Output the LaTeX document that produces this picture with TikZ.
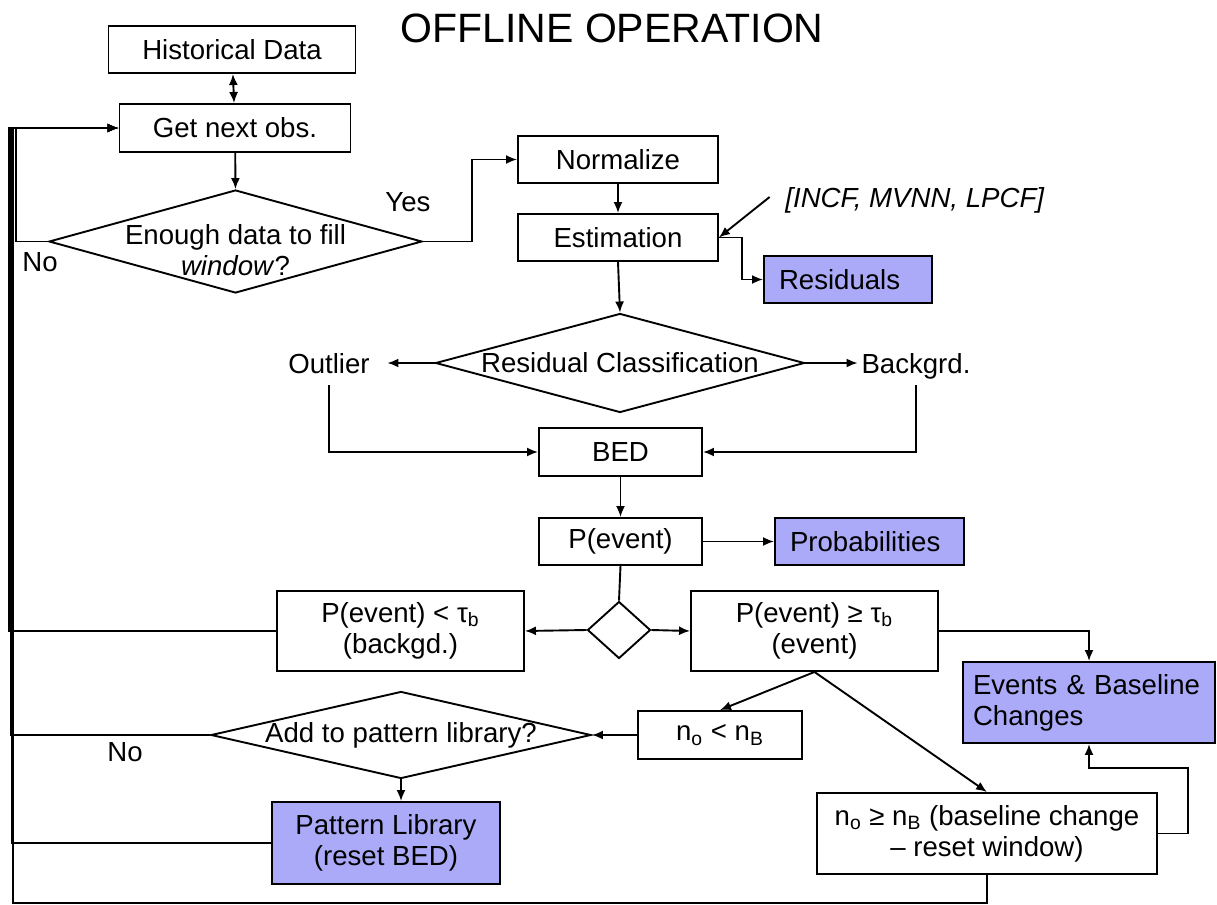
\documentclass[tikz,border=0pt]{standalone}
\usepackage{fontspec}
\setmainfont{Liberation Sans}
\usetikzlibrary{arrows.meta,positioning,shapes.geometric}
\definecolor{lavblue}{RGB}{170,170,248}

\begin{document}
\begin{tikzpicture}[
			x=0.5pt, y=-0.5pt,
			every node/.style={font=\fontsize{13.8}{15.5}\selectfont},
			block/.style={rectangle, draw, line width=0.95pt, inner sep=0pt, text centered, align=center},
			outblock/.style={rectangle, draw, line width=0.95pt, fill=lavblue, inner xsep=7.5pt, inner ysep=0pt, align=left},
			decision/.style={diamond, draw, line width=0.95pt, inner sep=0pt},
			tag/.style={inner sep=0pt, text depth=0pt},
			arrow/.style={-{Latex[length=5.5pt,width=4.5pt]}, line width=0.95pt},
			line/.style={line width=0.95pt}
		]
		\useasboundingbox (0,0) rectangle (1217,905);
		% Nodes
		\node[tag, font=\fontsize{20.5}{24}\selectfont] (title) at (612,28) {OFFLINE OPERATION};
		\node[block, minimum width=123.5pt, minimum height=23.5pt] (hist) at (232,49.5) {Historical Data};
		\node[block, minimum width=115.5pt, minimum height=24pt] (getnext) at (235,128) {Get next obs.};
		\node[decision, minimum width=186.5pt, minimum height=51.5pt,
			label={[align=center, yshift=-4.5pt]center:Enough data to fill\\\textit{window}?}] (enough) at (235.5,241.5) {};
		\node[tag] (yes) at (408,202) {Yes};
		\node[tag] (notop) at (40,262) {No};
		\node[block, minimum width=100pt, minimum height=23.5pt] (norm) at (618,159.5) {Normalize};
		\node[block, minimum width=100pt, minimum height=23.5pt] (est) at (618,237.5) {Estimation};
		\node[tag, minimum width=145pt] (models) at (915,197) {\textit{[INCF, MVNN, LPCF]}};
		\node[outblock, text width=69pt, minimum height=23.5pt] (resid) at (848,279.5) {Residuals};
		\node[decision, minimum width=184.5pt, minimum height=49.5pt,
			label={center:Residual Classification}] (classify) at (620,363) {};
		\node[tag, minimum width=58pt, minimum height=22pt] (outlier) at (329,363) {Outlier};
		\node[tag, minimum width=58pt, minimum height=22pt] (backgrd) at (916,363) {Backgrd.};
		\node[block, minimum width=81.5pt, minimum height=24pt] (bed) at (620.5,452) {BED};
		\node[block, minimum width=81.5pt, minimum height=23.5pt] (pevent) at (620.5,541.5) {P(event)};
		\node[outblock, text width=79.5pt, minimum height=23.5pt] (probs) at (869.5,541.5) {Probabilities};
		\node[decision, minimum width=31.5pt, minimum height=28.5pt] (split) at (619,630) {};
		\node[block, minimum width=123.5pt, minimum height=40pt] (lowp) at (400.5,631) {P(event) < τ\textsubscript{b}\\(backgd.)};
		\node[block, minimum width=123.5pt, minimum height=40pt] (highp) at (814.5,631) {P(event) ≥ τ\textsubscript{b}\\(event)};
		\node[outblock, inner xsep=5pt, text width=116pt, minimum height=40.5pt] (events) at (1089,702.5) {Events \& Baseline\\Changes};
		\node[block, minimum width=82pt, minimum height=24pt] (nless) at (720,735) {n\textsubscript{o} < n\textsubscript{B}};
		\node[decision, minimum width=190pt, minimum height=43.5pt,
			label={center:Add to pattern library?}] (add) at (401,735) {};
		\node[tag] (nobot) at (125,752) {No};
		\node[block, fill=lavblue, minimum width=114pt, minimum height=41pt] (pattern) at (386,843) {Pattern Library\\(reset BED)};
		\node[block, minimum width=170pt, minimum height=40.5pt] (ngeq) at (987,833.5) {n\textsubscript{o} ≥ n\textsubscript{B} (baseline change\\– reset window)};
		% Arrows
		\draw[{Latex[length=5.5pt,width=4.5pt]}-{Latex[length=5.5pt,width=4.5pt]}, line width=0.95pt] (hist) -- (getnext);
		\draw[arrow] (getnext) -- (enough.north);
		\draw[arrow] (enough.east) -- ++(49,0) |- (norm.west);
		\draw[arrow] (enough.west) -| (16,128) -- (getnext.west);
		\draw[arrow] (norm) -- (est);
		\draw[arrow] (models.west) -- (est.east);
		\draw[arrow] (est.east) -- ++(23,0) |- (resid.west);
		\draw[arrow] (est.south) -- (classify.north);
		\draw[arrow] (classify.west) -- (outlier.east);
		\draw[arrow] (classify.east) -- (backgrd.west);
		\draw[arrow] (outlier.south) |- (bed.west);
		\draw[arrow] (backgrd.south) |- (bed.east);
		\draw[arrow] (bed) -- (pevent);
		\draw[arrow] (pevent) -- (probs);
		\draw[line] (pevent.south) -- (split.north);
		\draw[arrow] (split.west) -- (lowp.east);
		\draw[arrow] (split.east) -- (highp.west);
		\draw[arrow] (highp.east) -| (events.north);
		\draw[arrow] (highp.south) -- (nless.north);
		\draw[arrow] (highp.south) -- (ngeq.north);
		\draw[arrow] (nless.west) -- (add.east);
		\draw[arrow] (add.south) -- (add.south |- pattern.north);
		\draw[arrow] (ngeq.east) -| (1188,768) -| (events.south);
		% return paths
		\draw[arrow] (lowp.west) -| (9,128) -- (getnext.west);
		\draw[arrow] (add.west) -| (10.5,128) -- (getnext.west);
		\draw[arrow] (pattern.west) -| (12,128) -- (getnext.west);
		\draw[arrow] (ngeq.south) |- (13,903) -- (13,128) -- (getnext.west);
	\end{tikzpicture}
\end{document}
